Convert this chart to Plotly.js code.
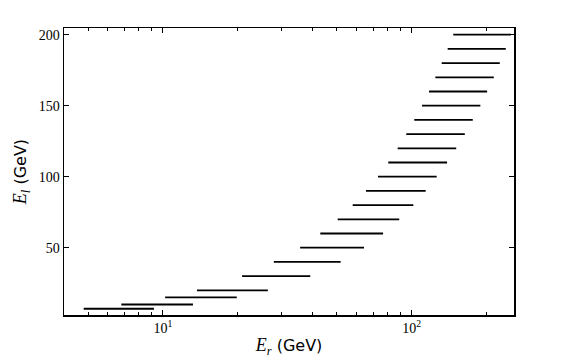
<!DOCTYPE html>
<html>
<head>
<meta charset="utf-8">
<script src="https://cdn.plot.ly/plotly-3.0.1.min.js"></script>
<style>
  html, body { margin: 0; padding: 0; background: #fff; }
  #grafica { width: 581px; height: 359px; }
</style>
</head>
<body>
<div id="grafica"></div>
<script>
// ---------- Datos ----------
// E_l de cada franja y su intervalo en E_r (GeV)
const eL = [7, 10, 15, 20, 30, 40, 50, 60, 70, 80, 90, 100,
            110, 120, 130, 140, 150, 160, 170, 180, 190, 200];
const erMin = [4.8, 6.8, 10.2, 13.7, 20.8, 27.9, 35.6, 42.9, 50.4, 57.9, 65.5, 73.2,
               80.5, 87.8, 95.1, 102.4, 110, 117.4, 124.5, 132, 139.5, 146.9];
const erMax = [9.2, 13.2, 19.8, 26.4, 39.1, 51.8, 64.3, 76.7, 89.1, 101.5, 113.8, 126,
               138.7, 151, 163.5, 176, 188.8, 201, 213.8, 226, 238.9, 250.6];

const xTickVals = [10, 100];
const xTickText = ["10<sup>1</sup>", "10<sup>2</sup>"];
const xMinorVals = [5, 6, 7, 8, 9, 20, 30, 40, 50, 60, 70, 80, 90, 200];
const yTickVals = [50, 100, 150, 200];

// ---------- Segmentos ----------
let xs = [];
let ys = [];
for (let i = 0; i < eL.length; i++) {
    xs.push(erMin[i], erMax[i], null);
    ys.push(eL[i], eL[i], null);
}

const segmentos = {
    x: xs,
    y: ys,
    mode: "lines",
    type: "scatter",
    line: { color: "#000", width: 1.8 },
    hoverinfo: "skip",
    showlegend: false
};

const serif = "Liberation Serif, DejaVu Serif, serif";

Plotly.newPlot("grafica", [segmentos], {
    width: 581,
    height: 359,
    margin: { l: 64, r: 67, t: 28, b: 44 },
    paper_bgcolor: "#fff",
    plot_bgcolor: "#fff",
    font: { family: "DejaVu Sans, sans-serif", size: 13, color: "#000" },
    xaxis: {
        type: "log",
        range: [Math.log10(4.0), Math.log10(257.8)],
        tickmode: "array",
        tickvals: xTickVals,
        ticktext: xTickText,
        tickfont: { family: serif, size: 14 },
        ticks: "inside",
        ticklen: 5,
        tickwidth: 1,
        tickcolor: "#000",
        mirror: "allticks",
        showline: true,
        linecolor: "#000",
        linewidth: 1.5,
        showgrid: false,
        zeroline: false,
        minor: {
            tickmode: "array",
            tickvals: xMinorVals,
            ticks: "inside",
            ticklen: 3,
            tickwidth: 1,
            tickcolor: "#000",
            showgrid: false
        },
        title: {
            text: '<span style="font-family:Liberation Serif;font-size:18px"><i>E</i><sub><i>r</i></sub></span> (GeV)',
            font: { size: 16 },
            standoff: 4
        }
    },
    yaxis: {
        range: [2.6, 204.7],
        tickmode: "array",
        tickvals: yTickVals,
        tickfont: { family: serif, size: 14 },
        ticks: "inside",
        ticklen: 5,
        tickwidth: 1,
        tickcolor: "#000",
        mirror: "allticks",
        showline: true,
        linecolor: "#000",
        linewidth: 1.5,
        showgrid: false,
        zeroline: false,
        title: {
            text: '<span style="font-family:Liberation Serif;font-size:18px"><i>E</i><sub><i>l</i></sub></span> (GeV)',
            font: { size: 16 },
            standoff: 8
        }
    }
}, { displayModeBar: false, staticPlot: true });
</script>
</body>
</html>
